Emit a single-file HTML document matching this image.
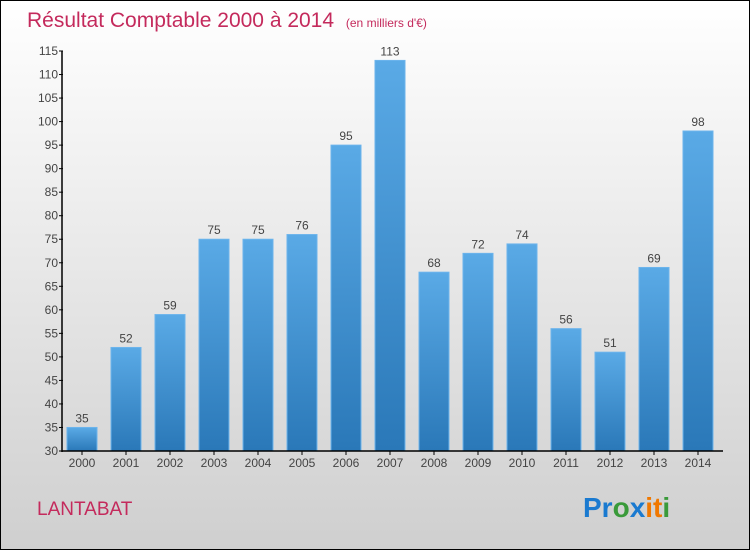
<!DOCTYPE html>
<html><head><meta charset="utf-8"><style>
body{margin:0}
#c{width:748px;height:548px;border:1px solid #000;position:relative;background:linear-gradient(#fff,#cfcfcf);font-family:"Liberation Sans",sans-serif;overflow:hidden}
</style></head><body>
<div id="c">
<svg id="s" width="748" height="548">
<defs><linearGradient id="g" x1="0" y1="0" x2="0" y2="1"><stop offset="0" stop-color="#5aaae6"/><stop offset="1" stop-color="#2a78b8"/></linearGradient></defs>
<text x="26" y="26" font-size="21" fill="#c42a5c">Résultat Comptable 2000 à 2014 <tspan font-size="12" dx="6">(en milliers d'€)</tspan></text>
<text x="36" y="514" font-size="19" fill="#c42a5c">LANTABAT</text>
<text x="582" y="516" font-size="28" font-weight="bold"><tspan fill="#1a7ad0">Pr</tspan><tspan fill="#3a9a3a">o</tspan><tspan fill="#1a7ad0">x</tspan><tspan fill="#f07800">i</tspan><tspan fill="#f07800">t</tspan><tspan fill="#3a9a3a">i</tspan></text>
<g id="p"></g>
</svg></div>
<script>
const years=["2000","2001","2002","2003","2004","2005","2006","2007","2008","2009","2010","2011","2012","2013","2014"];
const values=[35,52,59,75,75,76,95,113,68,72,74,56,51,69,98];
const ticks=[30,35,40,45,50,55,60,65,70,75,80,85,90,95,100,105,110,115];
const ns="http://www.w3.org/2000/svg",p=document.getElementById('p');
const y=v=>450-(v-30)*400/85, x=i=>61+44*i+20;
function mk(t,a,txt){const e=document.createElementNS(ns,t);for(const k in a)e.setAttribute(k,a[k]);if(txt!=null)e.textContent=txt;p.appendChild(e);return e;}
values.forEach((v,i)=>{
 const b=mk('rect',{x:x(i)-15,y:y(v),width:30,height:450-y(v),fill:'url(#g)',stroke:'#6cb4ec','stroke-width':1});
 
 
 const l=mk('text',{x:x(i),y:y(v)-5,'text-anchor':'middle','font-size':12,fill:'#444'},v);
 
 
 const t=mk('text',{x:x(i),y:466,'text-anchor':'middle','font-size':12,fill:'#444'},years[i]);
 
 
 const tk=mk('line',{x1:x(i),x2:x(i),y1:450,y2:454,stroke:'#000'});
 
 
});
ticks.forEach(v=>{
 const t=mk('text',{x:57,y:y(v)+4,'text-anchor':'end','font-size':12,fill:'#444'},v);
 
 
 const l=mk('line',{x1:58,x2:62,y1:y(v),y2:y(v),stroke:'#000'});
 
 
});
const ya=mk('line',{x1:61,x2:61,y1:50,y2:451,stroke:'#000','stroke-width':1.5});


const xa=mk('line',{x1:61,x2:722,y1:450,y2:450,stroke:'#000','stroke-width':1.5});


</script>
</body></html>
